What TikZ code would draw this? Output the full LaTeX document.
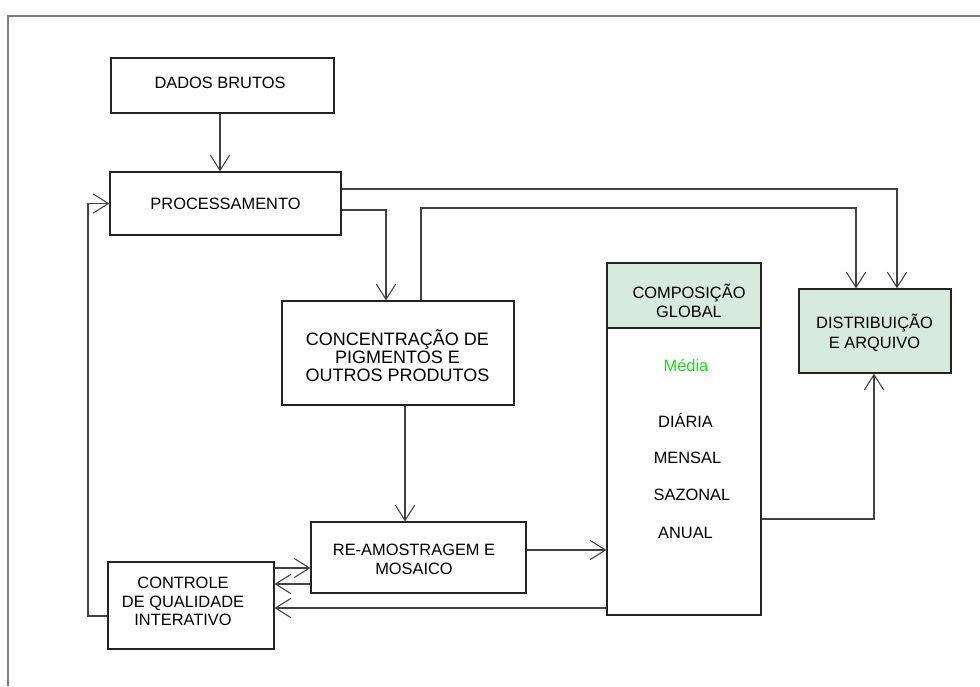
\documentclass[tikz,border=0pt]{standalone}
\usepackage{fontspec}
\setmainfont{Liberation Sans}
\usetikzlibrary{arrows.meta}
\definecolor{boxline}{RGB}{35,35,35}
\definecolor{wire}{RGB}{65,65,65}
\definecolor{framecol}{RGB}{125,125,125}
\definecolor{panel}{RGB}{214,234,222}
\definecolor{mediagreen}{RGB}{20,225,20}
\newcommand\pxu{0.75pt}
\begin{document}
\begin{tikzpicture}[x=0.75pt,y=-0.75pt,
  box/.style={draw=boxline, line width=0.9pt, rectangle, inner sep=0pt,
    align=center, font=\fontsize{12.3}{14.4}\selectfont},
  panelbox/.style={box, fill=panel},
  txt/.style={inner sep=0pt, align=center, font=\fontsize{12.3}{14.4}\selectfont},
  arr/.style={draw=wire, line width=0.9pt,
    -{Straight Barb[length=11.5pt, width=14.5pt, line width=0.8pt]}},
  wireline/.style={draw=wire, line width=0.9pt}
]
\fill[white] (0,0) rectangle (980,686);
\useasboundingbox (0,0) rectangle (980,686);

% page frame (top and left edges only)
\draw[framecol, line width=1.1pt] (8,686) -- (8,16) -- (980,16);

% boxes
\node[box, minimum width=223*\pxu, minimum height=55*\pxu] (dados) at (222.5,85.5) {};
\node[txt] (dadostxt) at (220,82.5) {DADOS BRUTOS};

\node[box, minimum width=231*\pxu, minimum height=63*\pxu] (proc) at (225.5,203.5) {PROCESSAMENTO};

\node[box, minimum width=232*\pxu, minimum height=104*\pxu,
  font=\fontsize{13.5}{13.6}\selectfont] (conc) at (398,353) {};
\node[txt, font=\fontsize{13.5}{13.6}\selectfont] (conctxt) at (397.5,356)
  {CONCENTRAÇÃO DE\\PIGMENTOS E\\OUTROS PRODUTOS};

\node[box, minimum width=215*\pxu, minimum height=71*\pxu] (re) at (418.5,557.5) {};
\node[txt] (retxt) at (414,559) {RE-AMOSTRAGEM E\\MOSAICO};

\node[box, minimum width=166*\pxu, minimum height=87*\pxu] (ctrl) at (191,605.5) {};
\node[txt, font=\fontsize{12.3}{13.9}\selectfont] (ctrltxt) at (183,601.5)
  {CONTROLE\\DE QUALIDADE\\INTERATIVO};

\node[panelbox, minimum width=154*\pxu, minimum height=65*\pxu] (comph) at (684,295.5) {};
\node[txt] (comptxt) at (689,301) {COMPOSIÇÃO\\GLOBAL};
\node[box, minimum width=154*\pxu, minimum height=287*\pxu] (compb) at (684,471.5) {};
\node[txt, text=mediagreen] (media) at (686,366) {Média};
\node[txt] (diaria) at (685.5,420) {DIÁRIA};
\node[txt] (mensal) at (687.5,458) {MENSAL};
\node[txt] (sazonal) at (692,495) {SAZONAL};
\node[txt] (anual) at (685.5,533) {ANUAL};

\node[panelbox, minimum width=152*\pxu, minimum height=84*\pxu] (dist) at (875,331) {};
\node[txt, font=\fontsize{12.3}{15}\selectfont] (disttxt) at (874.5,332.5)
  {DISTRIBUIÇÃO\\E ARQUIVO};

% routing points
\coordinate (r1) at (897,189);
\coordinate (r2) at (386,210);
\coordinate (r3) at (421,208);
\coordinate (r4) at (856,208);
\coordinate (r5) at (405,450);
\coordinate (r6) at (560,550);
\coordinate (r7) at (290,568);
\coordinate (r8) at (290,584);
\coordinate (r9) at (440,608);
\coordinate (r10) at (88,616);
\coordinate (r11) at (874,519);

% connectors
\draw[arr] (dados.south -| dadostxt.south) -- (dadostxt.south |- proc.north);
\draw[arr] (proc.east |- r1) -| (dist.north -| r1);
\draw[arr] (proc.east |- r2) -| (conc.north -| r2);
\draw[arr] (conc.north -| r3) |- (r4) -- (dist.north -| r4);
\draw[arr] (conc.south -| r5) -- (re.north -| r5);
\draw[arr] (re.east |- r6) -- (compb.west |- r6);
\draw[arr] (ctrl.east |- r7) -- (re.west |- r7);
\draw[arr] (re.west |- r8) -- (ctrl.east |- r8);
\draw[arr] (compb.west |- r9) -- (ctrl.east |- r9);
\draw[arr] (ctrl.west |- r10) -- (r10) |- (proc.west);
\draw[arr] (compb.east |- r11) -| (dist.south -| r11);
\end{tikzpicture}
\end{document}
